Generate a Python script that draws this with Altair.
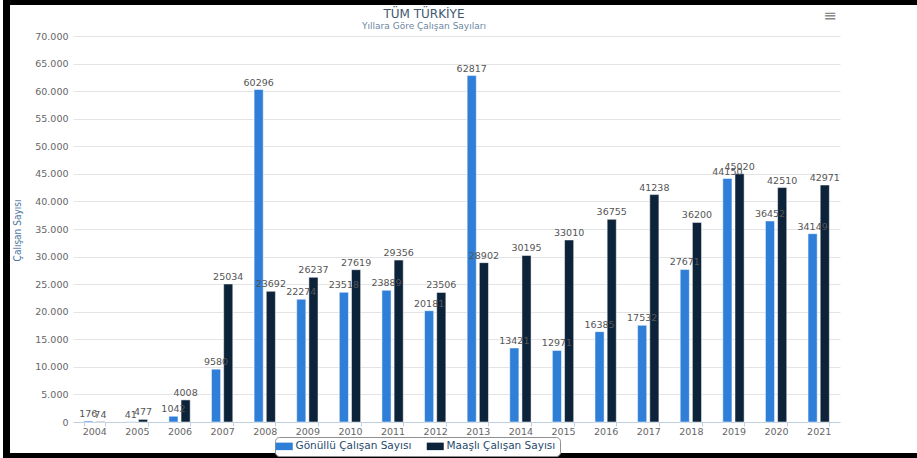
import altair as alt
import pandas as pd

years = [str(y) for y in range(2004, 2022)]
gonullu = [176, 41, 1042, 9580, 60296, 22274, 23518, 23889, 20181, 62817,
           13421, 12971, 16385, 17532, 27671, 44150, 36452, 34149]
maasli = [74, 477, 4008, 25034, 23692, 26237, 27619, 29356, 23506, 28902,
          30195, 33010, 36755, 41238, 36200, 45020, 42510, 42971]
series_names = ["Gönüllü Çalışan Sayısı", "Maaşlı Çalışan Sayısı"]
series_colors = ["#2f7ed8", "#0d233a"]
y_ticks = list(range(0, 70001, 5000))
title_text = "TÜM TÜRKİYE"
subtitle_text = "Yıllara Göre Çalışan Sayıları"

rows = []
for i, yr in enumerate(years):
    rows.append({"Yıl": yr, "Seri": series_names[0], "Değer": gonullu[i]})
    rows.append({"Yıl": yr, "Seri": series_names[1], "Değer": maasli[i]})
df = pd.DataFrame(rows)

FONT = "DejaVu Sans"

x_enc = alt.X("Yıl:N", sort=years,
              scale=alt.Scale(paddingInner=0.5, paddingOuter=0.25),
              axis=alt.Axis(title=None, labelAngle=0, labelColor="#666666",
                            labelFont=FONT, labelFontSize=9.5,
                            domainColor="#C0D0E0", tickColor="#C0D0E0",
                            tickSize=4, tickBand="extent", labelPadding=0,
                            grid=False))
xoff = alt.XOffset("Seri:N", sort=series_names,
                   scale=alt.Scale(paddingInner=0.25))
y_enc = alt.Y("Değer:Q",
              scale=alt.Scale(domain=[0, 70000], nice=False),
              axis=alt.Axis(values=y_ticks, title="Çalışan Sayısı",
                            labelExpr="replace(format(datum.value, ','), ',', '.')",
                            labelColor="#666666", labelFont=FONT, labelFontSize=9.5,
                            labelPadding=5, tickSize=0, domain=False,
                            gridColor="#E4E4E4", gridWidth=1,
                            titleColor="#4d759e",
                            titleFont="DejaVu Sans Condensed, Liberation Sans Narrow, sans-serif",
                            titleFontSize=10, titleFontWeight="normal",
                            titleAngle=270, titleX=-56, titleY=194,
                            titleAlign="center", titleBaseline="middle"))
color_enc = alt.Color("Seri:N", sort=series_names,
                      scale=alt.Scale(domain=series_names, range=series_colors),
                      legend=alt.Legend(title=None, orient="none", direction="horizontal",
                                        legendX=202, legendY=401,
                                        symbolType="M-1.7,-0.75H1.7V0.75H-1.7Z",
                                        symbolSize=100, symbolStrokeWidth=0,
                                        labelFont=FONT, labelFontSize=10.5,
                                        labelColor="#274b6d", columnPadding=14,
                                        labelOffset=6, padding=4,
                                        strokeColor="#909090",
                                        cornerRadius=4, fillColor="white"))

bars = alt.Chart(df).mark_bar(stroke="white", strokeWidth=0.5).encode(
    x=x_enc, xOffset=xoff, y=y_enc, color=color_enc)

labels = alt.Chart(df).mark_text(baseline="bottom", dy=-2, font=FONT,
                                 fontSize=9.5, color="#555555").encode(
    x=x_enc, xOffset=xoff, y=y_enc, text=alt.Text("Değer:Q", format="d"))

one = alt.Data(values=[{}])
frame = alt.Chart(one).mark_rect(color="black").encode(
    x=alt.value(-70), x2=alt.value(-63), y=alt.value(-36), y2=alt.value(422))
frame_top = alt.Chart(one).mark_rect(color="black").encode(
    x=alt.value(-70), x2=alt.value(844), y=alt.value(-36), y2=alt.value(-31))
frame_bot = alt.Chart(one).mark_rect(color="black").encode(
    x=alt.value(-70), x2=alt.value(844), y=alt.value(417), y2=alt.value(422))
menu = alt.Chart(one).mark_text(
    text="≡", fontSize=16, color="#888888", font=FONT).encode(
    x=alt.value(757), y=alt.value(-20))
title = alt.Chart(one).mark_text(
    text=title_text, fontSize=12, color="#3E576F", font=FONT).encode(
    x=alt.value(351), y=alt.value(-22))
subtitle = alt.Chart(one).mark_text(
    text=subtitle_text, fontSize=9, color="#6D869F", font=FONT).encode(
    x=alt.value(351), y=alt.value(-10.5))

chart = alt.layer(bars, labels, frame, frame_top, frame_bot, menu, title, subtitle).properties(
    width=767, height=386,
    padding={"left": 73, "top": 36, "right": 77, "bottom": 36},
    autosize=alt.AutoSizeParams(type="none"),
    background="white",
).configure_view(stroke=None)

chart.save("out.html", embed_options={"renderer": "svg", "actions": False})
